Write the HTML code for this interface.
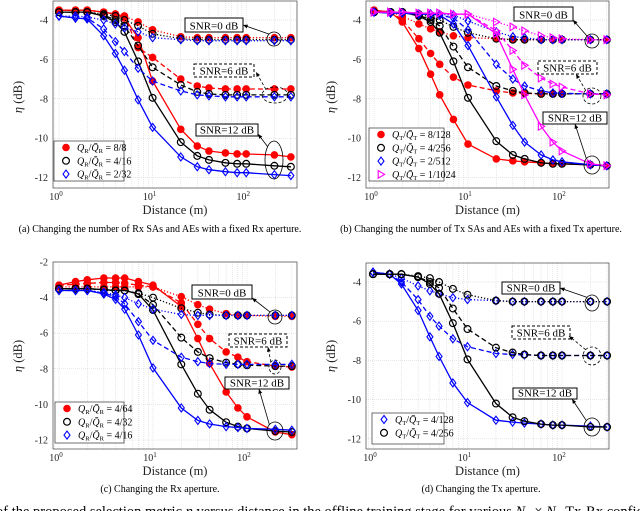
<!DOCTYPE html>
<html><head><meta charset="utf-8"><style>
body{margin:0;background:#fff;width:640px;height:511px;overflow:hidden}
svg{display:block;font-family:"Liberation Serif",serif}
</style></head><body>
<svg id="fig" width="640" height="511" viewBox="0 0 640 511" xmlns="http://www.w3.org/2000/svg">
<text x="160" y="232" font-size="10" text-anchor="middle">(a) Changing the number of Rx SAs and AEs with a fixed Rx aperture.</text>
<text x="481" y="232" font-size="10" text-anchor="middle">(b) Changing the number of Tx SAs and AEs with a fixed Tx aperture.</text>
<text x="160" y="492" font-size="10" text-anchor="middle">(c) Changing the Rx aperture.</text>
<text x="481" y="492" font-size="10" text-anchor="middle">(d) Changing the Tx aperture.</text>
<text x="-4" y="516" font-size="14.5">of the proposed selection metric <tspan font-style="italic">η</tspan> versus distance in the offline training stage for various <tspan font-style="italic">N</tspan><tspan font-size="9" dy="2">T</tspan><tspan dy="-2"> × </tspan><tspan font-style="italic">N</tspan><tspan font-size="9" dy="2">R</tspan><tspan dy="-2"> Tx-Rx configurations in</tspan></text>
</svg>
<script>
const xs=[1,1.5,2,3,4,5,7,10,20,30,40,60,80,100,200,300];
// (a)
const aRed12=[-3.5,-3.5,-3.5,-3.6,-3.7,-3.9,-4.9,-7.1,-9.55,-10.4,-10.65,-10.75,-10.8,-10.8,-10.85,-10.95];
const aRed6=[-3.5,-3.5,-3.5,-3.6,-3.7,-3.8,-5.4,-5.9,-7.0,-7.35,-7.45,-7.5,-7.5,-7.5,-7.5,-7.5];
const aRed0=[-3.5,-3.5,-3.5,-3.6,-3.7,-3.8,-4.1,-4.5,-4.85,-4.9,-4.9,-4.9,-4.9,-4.9,-4.9,-4.9];
const aBlk12=[-3.6,-3.6,-3.6,-3.8,-4.1,-4.6,-6.1,-7.95,-10.2,-10.9,-11.1,-11.25,-11.3,-11.3,-11.4,-11.45];
const aBlk6=[-3.6,-3.6,-3.6,-3.75,-4.0,-4.3,-5.3,-6.4,-7.3,-7.65,-7.75,-7.8,-7.8,-7.8,-7.8,-7.8];
const aBlk0=[-3.6,-3.6,-3.6,-3.7,-3.8,-4.0,-4.3,-4.7,-4.95,-5.0,-5.0,-5.0,-5.0,-5.0,-5.0,-5.0];
const aBlu12=[-3.8,-3.9,-3.95,-4.8,-5.7,-6.55,-8.05,-9.45,-10.95,-11.45,-11.6,-11.7,-11.75,-11.75,-11.85,-11.9];
const aBlu6=[-3.8,-3.9,-3.9,-4.45,-5.1,-5.6,-6.45,-7.1,-7.6,-7.8,-7.85,-7.9,-7.9,-7.9,-7.9,-7.9];
const aBlu0=[-3.8,-3.8,-3.85,-4.0,-4.2,-4.4,-4.6,-4.9,-5.0,-5.05,-5.05,-5.05,-5.05,-5.05,-5.05,-5.05];
// (b)
const bRed12=[-3.5,-3.6,-4.1,-5.45,-6.75,-7.8,-9.05,-10.3,-11.05,-11.15,-11.2,-11.25,-11.3,-11.3,-11.35,-11.4];
const bRed6=[-3.5,-3.6,-4.0,-4.95,-5.7,-6.25,-6.9,-7.3,-7.6,-7.7,-7.72,-7.75,-7.75,-7.75,-7.75,-7.75];
const bRed0=[-3.5,-3.6,-3.8,-4.2,-4.45,-4.6,-4.8,-4.9,-4.95,-5.0,-5.0,-5.0,-5.0,-5.0,-5.0,-5.0];
const bBlk12=[-3.6,-3.6,-3.6,-3.8,-4.1,-4.65,-6.1,-7.95,-10.15,-10.85,-11.05,-11.25,-11.3,-11.3,-11.35,-11.4];
const bBlk6=[-3.6,-3.6,-3.6,-3.75,-4.0,-4.3,-5.35,-6.4,-7.35,-7.6,-7.7,-7.75,-7.75,-7.75,-7.75,-7.75];
const bBlk0=[-3.6,-3.6,-3.6,-3.7,-3.85,-4.0,-4.35,-4.65,-4.95,-5.0,-5.0,-5.0,-5.0,-5.0,-5.0,-5.0];
const bBlu12=[-3.6,-3.65,-3.65,-3.7,-3.7,-3.75,-4.2,-5.3,-7.9,-9.35,-10.2,-10.85,-11.1,-11.2,-11.35,-11.4];
const bBlu6=[-3.6,-3.65,-3.65,-3.7,-3.7,-3.75,-3.9,-4.5,-6.25,-7.0,-7.35,-7.6,-7.7,-7.72,-7.75,-7.75];
const bBlu0=[-3.6,-3.65,-3.65,-3.7,-3.7,-3.72,-3.75,-4.05,-4.6,-4.85,-4.9,-5.0,-5.0,-5.0,-5.0,-5.0];
const bMag12=[-3.6,-3.6,-3.6,-3.65,-3.65,-3.65,-3.7,-3.7,-4.7,-6.5,-7.8,-9.4,-10.2,-10.65,-11.3,-11.4];
const bMag6=[-3.6,-3.6,-3.6,-3.65,-3.65,-3.65,-3.7,-3.7,-4.55,-5.55,-6.3,-6.95,-7.25,-7.4,-7.75,-7.8];
const bMag0=[-3.6,-3.6,-3.6,-3.65,-3.65,-3.65,-3.7,-3.7,-4.1,-4.35,-4.55,-4.8,-4.9,-4.95,-5.0,-5.0];
// (c)
const cRed12=[-3.3,-3.1,-3.0,-2.9,-2.9,-2.9,-3.1,-3.3,-4.5,-6.3,-7.7,-9.3,-10.2,-10.7,-11.55,-11.7];
const cRed6=[-3.3,-3.25,-3.2,-3.15,-3.15,-3.2,-3.3,-3.4,-4.3,-5.5,-6.3,-7.05,-7.35,-7.6,-7.85,-7.9];
const cRed0=[-3.4,-3.4,-3.4,-3.4,-3.4,-3.4,-3.4,-3.4,-3.95,-4.4,-4.65,-4.9,-5.0,-5.0,-5.05,-5.05];
const cBlk12=[-3.5,-3.5,-3.5,-3.55,-3.6,-3.6,-3.8,-4.7,-7.75,-9.4,-10.3,-11.0,-11.25,-11.35,-11.5,-11.55];
const cBlk6=[-3.5,-3.5,-3.5,-3.55,-3.6,-3.6,-3.8,-4.4,-6.25,-7.05,-7.4,-7.65,-7.75,-7.8,-7.85,-7.85];
const cBlk0=[-3.5,-3.5,-3.5,-3.55,-3.6,-3.6,-3.75,-4.0,-4.6,-4.85,-4.95,-5.0,-5.0,-5.0,-5.0,-5.0];
const cBlu12=[-3.6,-3.6,-3.6,-3.8,-4.1,-4.65,-6.1,-7.95,-10.2,-10.9,-11.1,-11.25,-11.3,-11.35,-11.4,-11.45];
const cBlu6=[-3.6,-3.6,-3.6,-3.75,-3.95,-4.35,-5.35,-6.4,-7.35,-7.6,-7.7,-7.75,-7.75,-7.75,-7.75,-7.75];
const cBlu0=[-3.6,-3.6,-3.6,-3.7,-3.85,-4.0,-4.35,-4.65,-4.95,-5.0,-5.0,-5.0,-5.0,-5.0,-5.0,-5.0];
// (d)
const dBlu12=[-3.5,-3.6,-4.1,-5.45,-6.8,-7.8,-9.15,-10.15,-11.05,-11.15,-11.2,-11.25,-11.3,-11.3,-11.35,-11.4];
const dBlu6=[-3.5,-3.6,-4.0,-4.9,-5.75,-6.25,-6.9,-7.3,-7.65,-7.7,-7.72,-7.75,-7.75,-7.75,-7.75,-7.75];
const dBlu0=[-3.5,-3.6,-3.8,-4.2,-4.45,-4.6,-4.8,-4.9,-4.95,-5.0,-5.0,-5.0,-5.0,-5.0,-5.0,-5.0];
const dBlk12=[-3.6,-3.6,-3.6,-3.75,-4.1,-4.6,-6.1,-7.95,-10.2,-10.9,-11.1,-11.25,-11.3,-11.3,-11.4,-11.4];
const dBlk6=[-3.6,-3.6,-3.6,-3.75,-4.0,-4.3,-5.35,-6.4,-7.35,-7.6,-7.7,-7.75,-7.75,-7.75,-7.75,-7.75];
const dBlk0=[-3.6,-3.6,-3.6,-3.7,-3.8,-4.0,-4.35,-4.65,-4.95,-5.0,-5.0,-5.0,-5.0,-5.0,-5.0,-5.0];
const yTicksA=[-4,-6,-8,-10,-12];
const yTicksC=[-2,-4,-6,-8,-10,-12];
const xTickExp=[0,1,2];
const legA=["8/8","4/16","2/32"];
const legB=["8/128","4/256","2/512","1/1024"];
const legC=["4/64","4/32","4/16"];
const legD=["4/128","4/256"];

const NS="http://www.w3.org/2000/svg";
const svg=document.getElementById('fig');
function mk(tag,attrs,parent){const e=document.createElementNS(NS,tag);for(const k in attrs)e.setAttribute(k,attrs[k]);(parent||svg).appendChild(e);return e;}
const COL={r:"#ff0000",k:"#000000",b:"#0000ff",m:"#ff00ff"};
const DASH={12:"",6:"5,3",0:"1.2,2"};

function marker(g,type,x,y){
  let e;
  if(type==='r'){e=mk('circle',{cx:x,cy:y,r:3.4,fill:COL.r,stroke:COL.r,'stroke-width':0.8},g);}
  else if(type==='k'){e=mk('circle',{cx:x,cy:y,r:3.4,fill:'none',stroke:COL.k,'stroke-width':1.2},g);}
  else if(type==='b'){e=mk('polygon',{points:`${x},${y-4} ${x+3},${y} ${x},${y+4} ${x-3},${y}`,fill:'none',stroke:COL.b,'stroke-width':1.1},g);}
  else {e=mk('polygon',{points:`${x-2.8},${y-3.8} ${x+3.6},${y} ${x-2.8},${y+3.8}`,fill:'none',stroke:COL.m,'stroke-width':1.1},g);}
  
  
}

function plot(name,ax,yTicks,series,leg,legBox,ann,labelY){
  const g=mk('g',{});
  
  
  const sx=d=>ax.x0+ax.dec*Math.log10(d);
  const sy=v=>ax.y0+(ax.v0-v)*ax.py;
  mk('rect',{x:ax.l,y:ax.t,width:ax.r-ax.l,height:ax.b-ax.t,fill:'#fff',stroke:'none'},g);
  const grid=mk('g',{stroke:'#cfcfcf','stroke-width':0.5,'stroke-dasharray':'1,1'},g);
  
  
  for(let e=-1;e<=2;e++)for(let m=1;m<10;m++){const x=sx(m*Math.pow(10,e));if(x>ax.l&&x<ax.r)mk('line',{x1:x,x2:x,y1:ax.t,y2:ax.b},grid);}
  yTicks.forEach(v=>mk('line',{x1:ax.l,x2:ax.r,y1:sy(v),y2:sy(v)},grid));
  mk('rect',{x:ax.l,y:ax.t,width:ax.r-ax.l,height:ax.b-ax.t,fill:'none',stroke:'#444','stroke-width':0.7},g);
  yTicks.forEach(v=>{const t=mk('text',{x:ax.l-5,y:sy(v)+3.5,'font-size':10,'text-anchor':'end',fill:'#222'},g);t.textContent=v;
    });
  xTickExp.forEach(e=>{const t=mk('text',{x:sx(Math.pow(10,e))-3,y:ax.b+12,'font-size':10,'text-anchor':'middle',fill:'#222'},g);
    t.innerHTML='10<tspan font-size="7" dy="-4">'+e+'</tspan>';
    });
  const xl=mk('text',{x:(ax.l+ax.r)/2,y:ax.b+26,'font-size':12.5,'text-anchor':'middle',fill:'#222'},g);xl.textContent='Distance (m)';
  
  const yl=mk('text',{x:0,y:0,'font-size':12.5,'text-anchor':'middle',fill:'#222',transform:`translate(${ax.l-31},${labelY}) rotate(-90)`},g);
  yl.innerHTML='<tspan font-style="italic">η</tspan> (dB)';
  
  series.forEach(s=>{
    const pts=xs.map((d,i)=>sx(d).toFixed(1)+','+sy(s.v[i]).toFixed(1)).join(' ');
    const pl=mk('polyline',{points:pts,fill:'none',stroke:COL[s.c],'stroke-width':1.3,'stroke-dasharray':DASH[s.snr]},g);
    
    
    xs.forEach((d,i)=>marker(g,s.c,sx(d),sy(s.v[i])));
  });
  ann.forEach(a=>{
    const box=mk('rect',{x:a.bx,y:a.by,width:a.bw,height:a.bh,fill:'#fff',stroke:'#000','stroke-width':1,'stroke-dasharray':a.dash||''},g);
    
    const t=mk('text',{x:a.bx+a.bw/2,y:a.by+a.bh-2.5,'font-size':11,'text-anchor':'middle'},g);t.textContent=a.txt;
    
    const el=mk('ellipse',{cx:a.ex,cy:a.ey,rx:a.rx,ry:a.ry,fill:'none',stroke:'#000','stroke-width':0.8,'stroke-dasharray':a.edash||''},g);
    
    const sxp=a.ex-a.rx*0.7, syp=a.ey+(a.ty>a.ey?a.ry*0.7:-a.ry*0.7);
    const ln=mk('line',{x1:sxp,y1:syp,x2:a.tx,y2:a.ty,stroke:'#000','stroke-width':0.8,'stroke-dasharray':a.edash||''},g);
    
    const ang=Math.atan2(a.ty-syp,a.tx-sxp);const L=5;
    mk('polygon',{points:`${a.tx},${a.ty} ${a.tx-L*Math.cos(ang-0.4)},${a.ty-L*Math.sin(ang-0.4)} ${a.tx-L*Math.cos(ang+0.4)},${a.ty-L*Math.sin(ang+0.4)}`,fill:'#000'},g);
  });
  const lg=mk('g',{},g);
  
  mk('rect',{x:legBox.x,y:legBox.y,width:legBox.w,height:legBox.h,fill:'#fff',stroke:'#333','stroke-width':0.7},lg);
  const cols=series.filter(s=>s.snr===12).map(s=>s.c);
  leg.forEach((lab,i)=>{
    const y=legBox.y+6.5+i*legBox.step;
    marker(lg,cols[i],legBox.x+12,y);
    const t=mk('text',{x:legBox.x+23,y:y+3.5,'font-size':10},lg);
    t.innerHTML=`<tspan font-style="italic">Q</tspan><tspan font-size="6.5" dy="2">${legBox.sub}</tspan><tspan dy="-2">/</tspan><tspan font-style="italic">Q̄</tspan><tspan font-size="6.5" dy="2">${legBox.sub}</tspan><tspan dy="-2"> = ${lab}</tspan>`;
    
  });
}
function S(c,v12,v6,v0){return [{c,snr:12,v:v12},{c,snr:6,v:v6},{c,snr:0,v:v0}];}

plot('subplot-a',{l:53,r:297,t:1,b:188,x0:59,dec:93.6,y0:20,v0:-4,py:19.7},yTicksA,
 [...S('r',aRed12,aRed6,aRed0),...S('k',aBlk12,aBlk6,aBlk0),...S('b',aBlu12,aBlu6,aBlu0)],legA,
 {x:54,y:141,w:70,h:40,step:13.3,sub:'R'},
 [{txt:'SNR=0 dB',bx:185,by:18,bw:58,bh:14,ex:274,ey:39,rx:7,ry:7,tx:243,ty:25},
  {txt:'SNR=6 dB',bx:194,by:64,bw:60,bh:13,dash:'3,2',edash:'3,2',ex:275,ey:95,rx:13,ry:8,tx:256,ty:72},
  {txt:'SNR=12 dB',bx:196,by:124,bw:62,bh:12,ex:274,ey:160,rx:9,ry:19,tx:258,ty:134}],97);
plot('subplot-b',{l:366,r:609,t:1,b:188,x0:374,dec:94,y0:20,v0:-4,py:19.7},yTicksA,
 [...S('r',bRed12,bRed6,bRed0),...S('k',bBlk12,bBlk6,bBlk0),...S('b',bBlu12,bBlu6,bBlu0),...S('m',bMag12,bMag6,bMag0)],legB,
 {x:369,y:128,w:75,h:53,step:13.3,sub:'T'},
 [{txt:'SNR=0 dB',bx:514,by:7,bw:59,bh:14,ex:592,ey:41,rx:7,ry:7,tx:573,ty:20},
  {txt:'SNR=6 dB',bx:538,by:61,bw:59,bh:13,dash:'3,2',edash:'3,2',ex:592,ey:96,rx:9,ry:8,tx:576,ty:74},
  {txt:'SNR=12 dB',bx:543,by:112,bw:64,bh:12,ex:592,ey:165,rx:8,ry:9,tx:575,ty:124}],97);
plot('subplot-c',{l:53,r:297,t:262,b:449,x0:59,dec:94,y0:262,v0:-2,py:17.8},yTicksC,
 [...S('r',cRed12,cRed6,cRed0),...S('k',cBlk12,cBlk6,cBlk0),...S('b',cBlu12,cBlu6,cBlu0)],legC,
 {x:55,y:402,w:69,h:41,step:13.3,sub:'R'},
 [{txt:'SNR=0 dB',bx:192,by:285,bw:60,bh:14,ex:275,ey:317,rx:7,ry:7,tx:252,ty:298},
  {txt:'SNR=6 dB',bx:229,by:334,bw:58,bh:13,dash:'3,2',edash:'3,2',ex:275,ey:367,rx:6,ry:7,tx:268,ty:347},
  {txt:'SNR=12 dB',bx:225,by:377,bw:64,bh:12,ex:275,ey:431,rx:8,ry:9,tx:259,ty:389}],356);
plot('subplot-d',{l:366,r:609,t:263,b:449,x0:373,dec:94.5,y0:282,v0:-4,py:19.6},yTicksA,
 [...S('b',dBlu12,dBlu6,dBlu0),...S('k',dBlk12,dBlk6,dBlk0)],legD,
 {x:372,y:413,w:72,h:31,step:13.3,sub:'T'},
 [{txt:'SNR=0 dB',bx:502,by:282,bw:58,bh:12,ex:592,ey:303,rx:7,ry:8,tx:560,ty:288},
  {txt:'SNR=6 dB',bx:512,by:326,bw:58,bh:13,dash:'3,2',edash:'3,2',ex:592,ey:356,rx:9,ry:9,tx:569,ty:336},
  {txt:'SNR=12 dB',bx:513,by:388,bw:64,bh:11,ex:592,ey:427,rx:8,ry:9,tx:572,ty:399}],356);
</script>
</body></html>
